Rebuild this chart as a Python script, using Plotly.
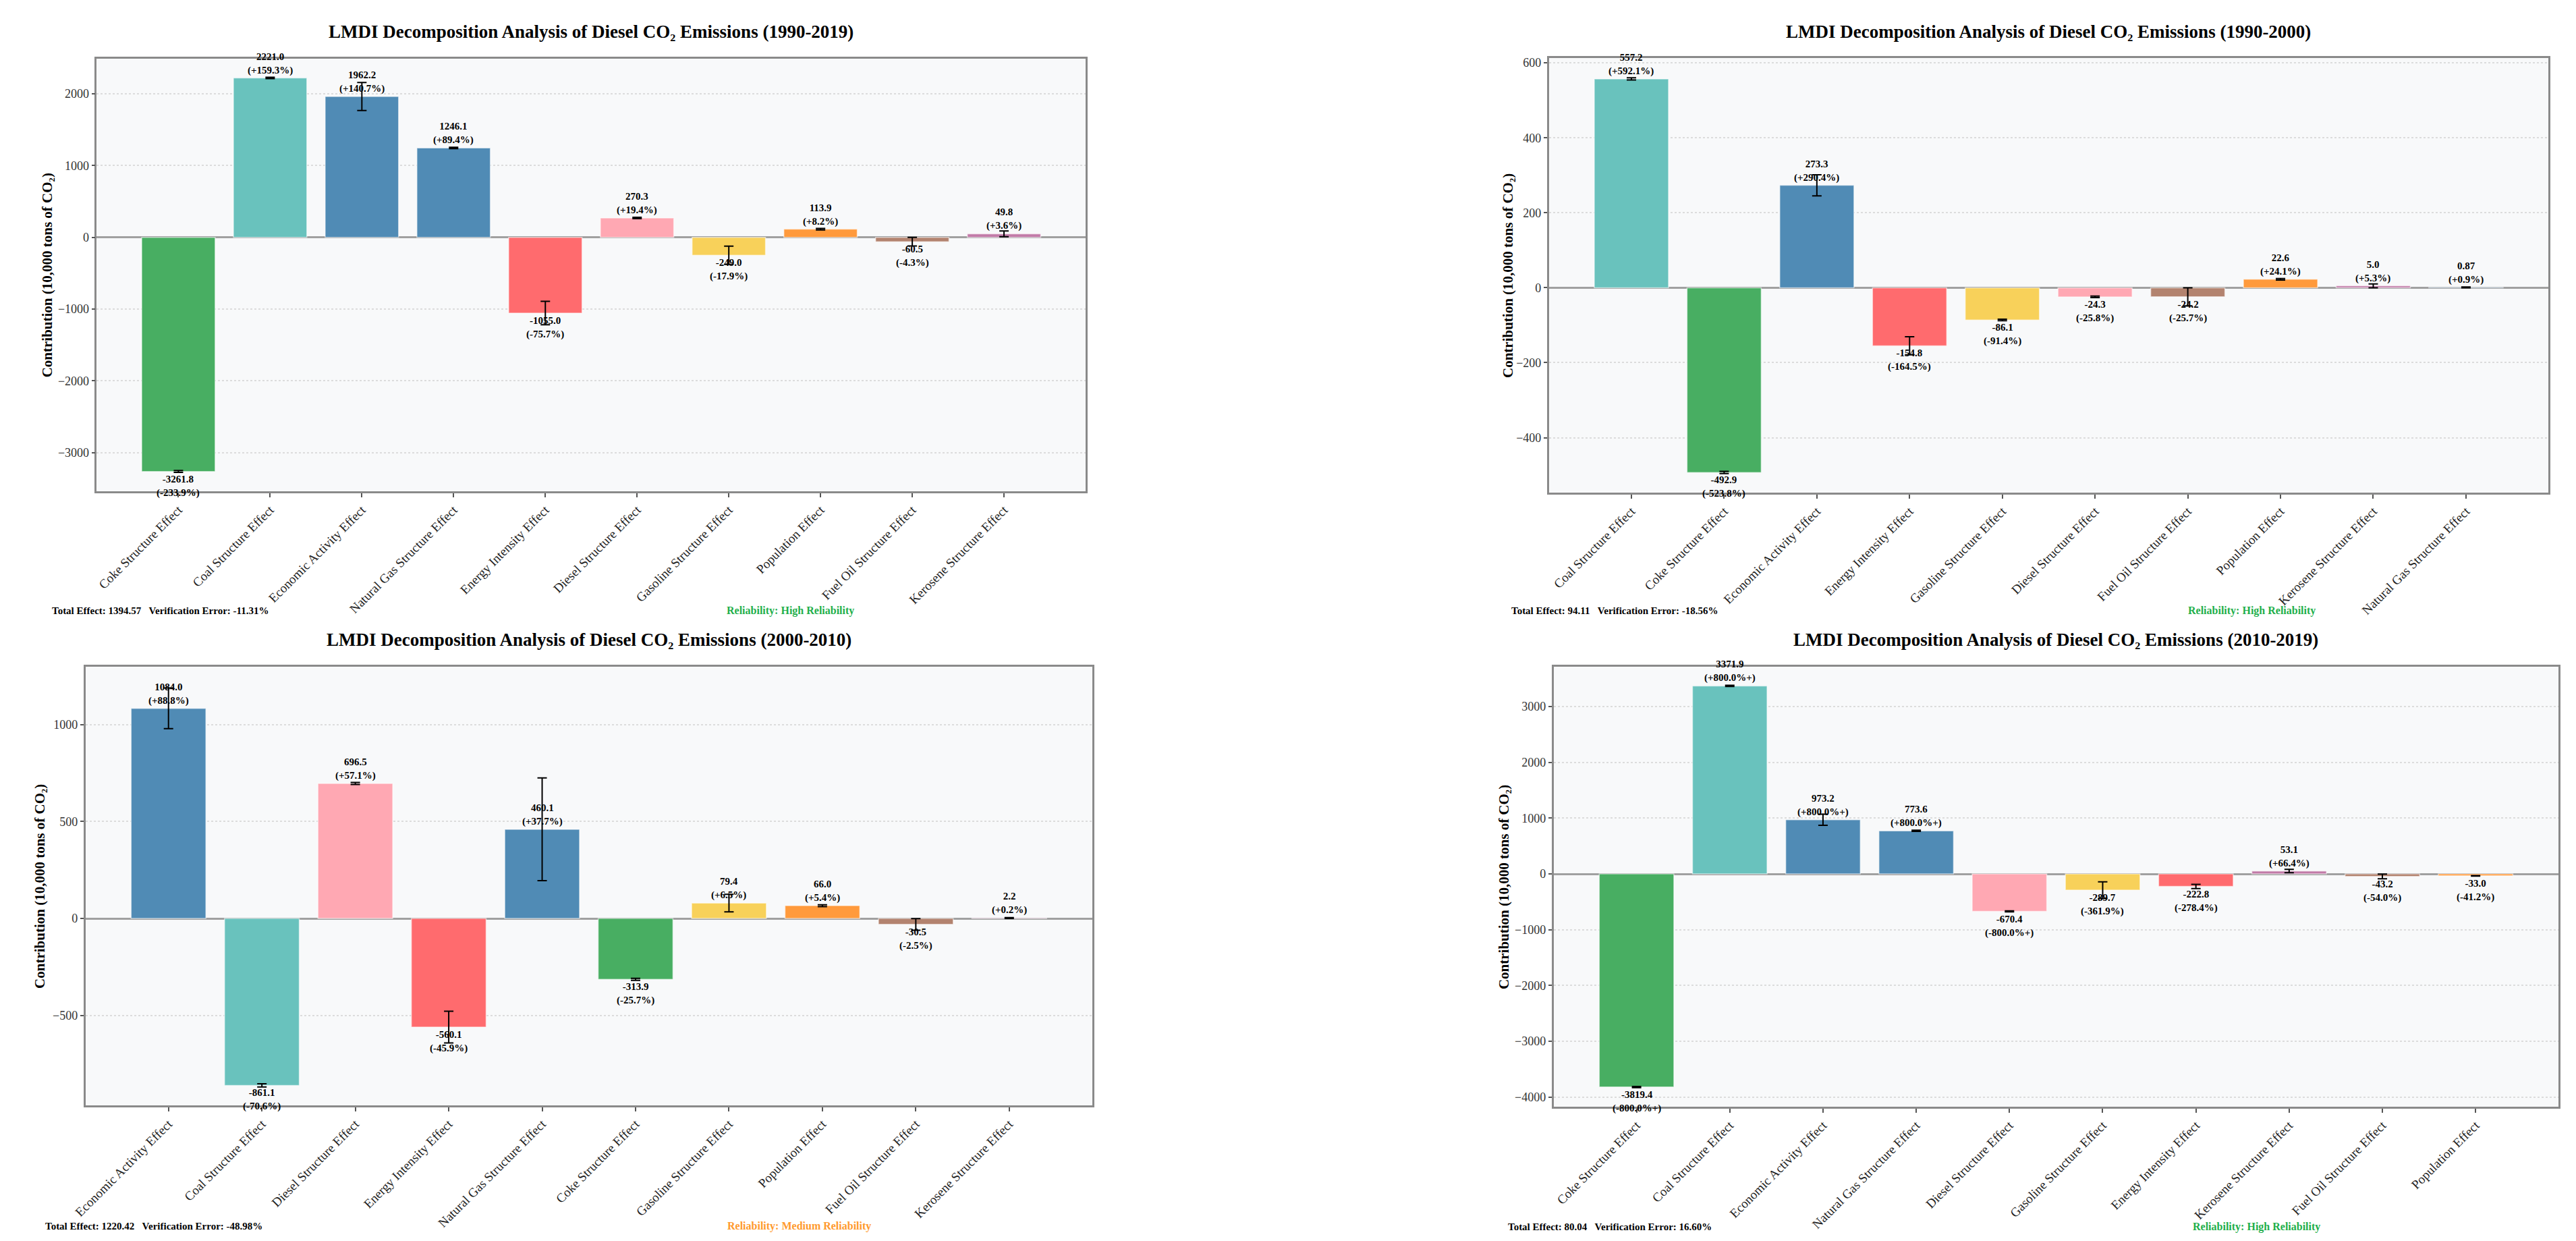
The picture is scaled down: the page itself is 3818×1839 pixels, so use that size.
import plotly.graph_objects as go

W, H = 3818, 1839

# ---------------- data ----------------
cats1 = ["Coke Structure Effect", "Coal Structure Effect", "Economic Activity Effect",
         "Natural Gas Structure Effect", "Energy Intensity Effect", "Diesel Structure Effect",
         "Gasoline Structure Effect", "Population Effect", "Fuel Oil Structure Effect",
         "Kerosene Structure Effect"]
vals1 = [-3261.8, 2221.0, 1962.2, 1246.1, -1055.0, 270.3, -249.0, 113.9, -60.5, 49.8]
pcts1 = ["-233.9%", "+159.3%", "+140.7%", "+89.4%", "-75.7%", "+19.4%", "-17.9%", "+8.2%", "-4.3%", "+3.6%"]
errs1 = [12, 10, 195, 10, 163, 10, 127, 10, 60, 40]

cats2 = ["Coal Structure Effect", "Coke Structure Effect", "Economic Activity Effect",
         "Energy Intensity Effect", "Gasoline Structure Effect", "Diesel Structure Effect",
         "Fuel Oil Structure Effect", "Population Effect", "Kerosene Structure Effect",
         "Natural Gas Structure Effect"]
vals2 = [557.2, -492.9, 273.3, -154.8, -86.1, -24.3, -24.2, 22.6, 5.0, 0.87]
pcts2 = ["+592.1%", "-523.8%", "+290.4%", "-164.5%", "-91.4%", "-25.8%", "-25.7%", "+24.1%", "+5.3%", "+0.9%"]
errs2 = [3, 3, 28, 24, 2, 2, 24, 2, 5, 1]

cats3 = ["Economic Activity Effect", "Coal Structure Effect", "Diesel Structure Effect",
         "Energy Intensity Effect", "Natural Gas Structure Effect", "Coke Structure Effect",
         "Gasoline Structure Effect", "Population Effect", "Fuel Oil Structure Effect",
         "Kerosene Structure Effect"]
vals3 = [1084.0, -861.1, 696.5, -560.1, 460.1, -313.9, 79.4, 66.0, -30.5, 2.2]
pcts3 = ["+88.8%", "-70.6%", "+57.1%", "-45.9%", "+37.7%", "-25.7%", "+6.5%", "+5.4%", "-2.5%", "+0.2%"]
errs3 = [105, 8, 5, 82, 265, 5, 45, 5, 30, 2]

cats4 = ["Coke Structure Effect", "Coal Structure Effect", "Economic Activity Effect",
         "Natural Gas Structure Effect", "Diesel Structure Effect", "Gasoline Structure Effect",
         "Energy Intensity Effect", "Kerosene Structure Effect", "Fuel Oil Structure Effect",
         "Population Effect"]
vals4 = [-3819.4, 3371.9, 973.2, 773.6, -670.4, -289.7, -222.8, 53.1, -43.2, -33.0]
pcts4 = ["-800.0%+", "+800.0%+", "+800.0%+", "+800.0%+", "-800.0%+", "-361.9%", "-278.4%", "+66.4%", "-54.0%", "-41.2%"]
errs4 = [10, 10, 100, 10, 10, 150, 38, 30, 43, 5]

periods = ["1990-2019", "1990-2000", "2000-2010", "2010-2019"]
totals = [1394.57, 94.11, 1220.42, 80.04]
verrs = [-11.31, -18.56, -48.98, 16.60]
reliab = ["High Reliability", "High Reliability", "Medium Reliability", "High Reliability"]

# ---------------- styles ----------------
COLORS = {
    "Coke Structure Effect": "#48AE62",
    "Coal Structure Effect": "#69C2BD",
    "Economic Activity Effect": "#508BB5",
    "Natural Gas Structure Effect": "#508BB5",
    "Energy Intensity Effect": "#FF6B6E",
    "Diesel Structure Effect": "#FFA8B3",
    "Gasoline Structure Effect": "#F8D15A",
    "Population Effect": "#FF9A3C",
    "Fuel Oil Structure Effect": "#B3836F",
    "Kerosene Structure Effect": "#C27BA8",
}
REL_COLORS = {"High Reliability": "#1FAF4B", "Medium Reliability": "#FF9A2E"}
FONT = "Liberation Serif, Times New Roman, serif"

# plot boxes in pixels: left, top, right, bottom
boxes = [(117, 77, 1590, 719), (2280, 76, 3769, 721),
         (100, 979, 1600, 1630), (2287, 979, 3784, 1632)]
yranges = [(-3540, 2490), (-547, 613), (-965, 1299), (-4175, 3716)]
dticks = [1000, 200, 500, 1000]
ylab_x = [43, 2219, 32, 2213]
title_y = [37, 37, 939, 939]
foot_y = [896, 896, 1809, 1810]
total_x = [48, 2222, 38, 2217]
rel_x = [1053, 3230, 1054, 3237]

panels = [(cats1, vals1, pcts1, errs1), (cats2, vals2, pcts2, errs2),
          (cats3, vals3, pcts3, errs3), (cats4, vals4, pcts4, errs4)]


def px(x):
    return x / W


def py(y):
    return 1 - y / H


fig = go.Figure()
annotations = []
layout = {}

for i, (cats, vals, pcts, errs) in enumerate(panels):
    n = "" if i == 0 else str(i + 1)
    xa, ya = "x" + n, "y" + n
    l, t, r, b = boxes[i]
    fig.add_trace(go.Bar(
        x=cats, y=vals, xaxis=xa, yaxis=ya,
        marker=dict(color=[COLORS[c] for c in cats],
                    line=dict(color="rgba(255,255,255,0.55)", width=1.5)),
        width=0.8,
        error_y=dict(type="data", array=errs, visible=True, color="black",
                     thickness=2, width=7),
        showlegend=False, hoverinfo="x+y",
    ))
    layout["xaxis" + n] = dict(
        domain=[px(l), px(r)], anchor=ya, type="category",
        range=[-0.89, len(cats) - 1 + 0.89],
        tickangle=-45, tickfont=dict(family=FONT, size=19, color="#222"),
        ticks="outside", ticklen=6, tickwidth=1.5, tickcolor="#555",
        showline=True, mirror=True, linecolor="#8a8a8a", linewidth=2.5,
        showgrid=False, zeroline=False,
    )
    layout["yaxis" + n] = dict(
        domain=[py(b), py(t)], anchor=xa, range=list(yranges[i]), dtick=dticks[i],
        tickfont=dict(family=FONT, size=18, color="#333"),
        ticks="outside", ticklen=5, tickwidth=1.5, tickcolor="#555",
        showline=True, mirror=True, linecolor="#8a8a8a", linewidth=2.5,
        showgrid=True, gridcolor="#dcdcdc", griddash="dot", gridwidth=1.5,
        zeroline=True, zerolinecolor="#a0a0a0", zerolinewidth=2.5,
    )
    # title
    annotations.append(dict(
        xref="paper", yref="paper", x=px((l + r) / 2), y=py(title_y[i]),
        xanchor="center", yanchor="middle", showarrow=False,
        text=f"<b>LMDI Decomposition Analysis of Diesel CO₂ Emissions ({periods[i]})</b>",
        font=dict(family=FONT, size=27, color="black")))
    # y label
    annotations.append(dict(
        xref="paper", yref="paper", x=px(ylab_x[i]), y=py((t + b) / 2),
        xanchor="center", yanchor="middle", showarrow=False, textangle=-90,
        text="<b>Contribution (10,000 tons of CO₂)</b>",
        font=dict(family=FONT, size=21, color="black")))
    # value labels
    for c, v, p in zip(cats, vals, pcts):
        vs = f"{v:.2f}" if abs(v) < 1 else f"{v:.1f}"
        annotations.append(dict(
            xref=xa, yref=ya, x=c, y=v, showarrow=False,
            yanchor="bottom" if v >= 0 else "top", yshift=1 if v >= 0 else -1,
            text=f"<b>{vs}<br>({p})</b>",
            font=dict(family=FONT, size=15, color="black")))
    # footer texts
    annotations.append(dict(
        xref="paper", yref="paper", x=px(total_x[i]), y=py(foot_y[i]),
        xanchor="left", yanchor="middle", showarrow=False,
        text=f"<b>Total Effect: {totals[i]:.2f}&nbsp;&nbsp;&nbsp;Verification Error: {verrs[i]:.2f}%</b>",
        font=dict(family=FONT, size=15, color="black")))
    annotations.append(dict(
        xref="paper", yref="paper", x=px(rel_x[i]), y=py(foot_y[i]),
        xanchor="left", yanchor="middle", showarrow=False,
        text=f"<b>Reliability: {reliab[i]}</b>",
        font=dict(family=FONT, size=16, color=REL_COLORS[reliab[i]])))

fig.update_layout(
    width=W, height=H, margin=dict(l=0, r=0, t=0, b=0),
    paper_bgcolor="white", plot_bgcolor="#F8F9FA",
    bargap=0.2, annotations=annotations, **layout,
)

fig.write_html("out.html")
